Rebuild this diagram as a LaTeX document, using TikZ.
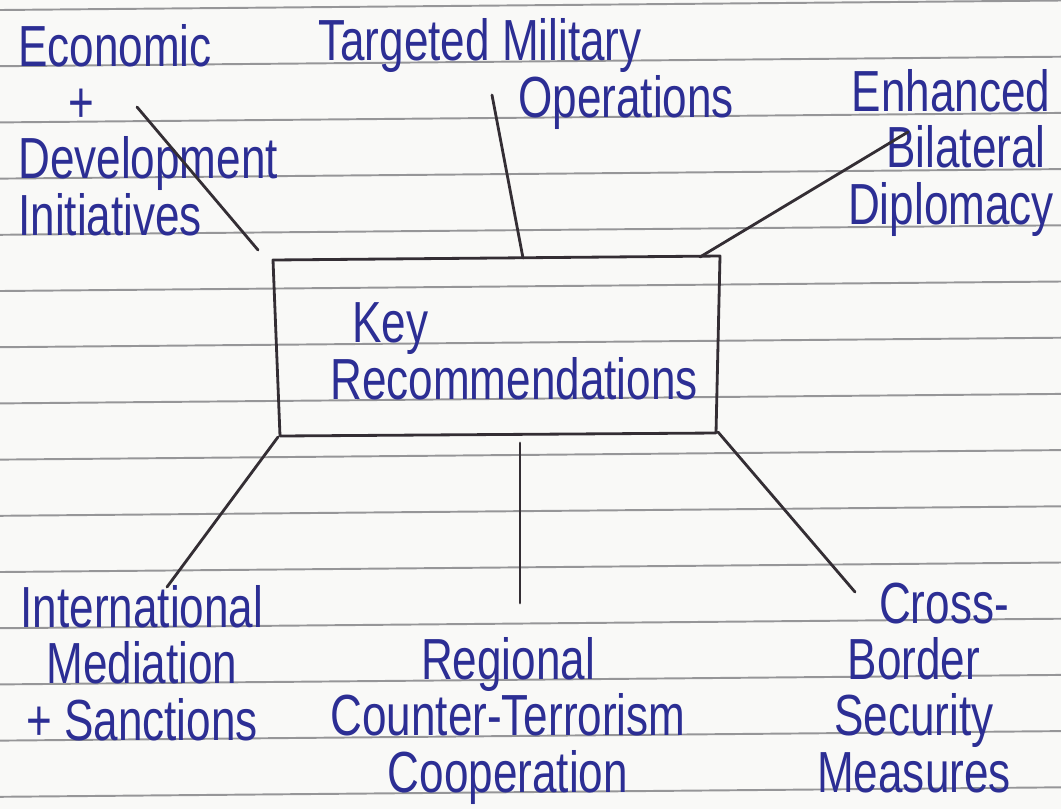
\documentclass[tikz,border=0pt]{standalone}
\usepackage{fontspec}
\newfontfamily\handfont[FakeStretch=0.76]{Liberation Sans}
\definecolor{inkcol}{RGB}{44,46,148}
\definecolor{pencol}{RGB}{52,46,52}
\definecolor{rulecol}{RGB}{150,150,152}
\definecolor{papercol}{RGB}{249,249,247}
\tikzstyle{ruling}=[rulecol, line width=1.1pt]
\tikzstyle{note}=[inkcol, inner sep=0pt,
font=\handfont\fontsize{33}{32}\selectfont]
\tikzstyle{link}=[pencol, line width=1.6pt, line cap=round]

\begin{document}
\begin{tikzpicture}[x=0.02cm, y=-0.02cm]
  \useasboundingbox (0,0) rectangle (1061,809);
  \fill[papercol] (0,0) rectangle (1061,809);
  % ruled lines of the page
  \foreach \k in {0,...,14}
    \draw[ruling] (0,10+56.2*\k) -- (1061,0.5+56.2*\k);
  % central box
  \coordinate (kTL) at (273,260);
  \coordinate (kTR) at (720,256);
  \coordinate (kBR) at (716,433);
  \coordinate (kBL) at (280,436);
  \draw[link, line join=round] (kTL) -- (kTR) -- (kBR) -- (kBL) -- cycle;
  % (base anchor of a multi-line node = last line)
  \node[note, align=left, anchor=base west] (key) at (330,399)
    {\hspace{0.44cm}Key\\Recommendations};
  % branches
  \node[note, align=left, anchor=base west] (econ) at (18,235)
    {Economic\\\hspace{1.0cm}+\\Development\\Initiatives};
  \node[note, align=left, anchor=base west] (mil) at (318,117)
    {Targeted Military\\\hspace{4cm}Operations};
  \node[note, align=center, anchor=base] (dipl) at (951,224)
    {Enhanced\\\hspace{0.6cm}Bilateral\\Diplomacy};
  \node[note, align=center, anchor=base] (intl) at (142,740)
    {International\\Mediation\\+ Sanctions};
  \node[note, align=center, anchor=base] (ctr) at (508,792)
    {Regional\\Counter-Terrorism\\Cooperation};
  \node[note, align=center, anchor=base] (cross) at (914,792)
    {\hspace{1.2cm}Cross-\\Border\\Security\\Measures};
  % connectors
  \coordinate (econ-end) at (137,107);
  \coordinate (econ-box) at (258,250);
  \coordinate (mil-end) at (492,95);
  \coordinate (mil-box) at (523,258);
  \coordinate (dipl-end) at (908,132);
  \coordinate (dipl-box) at (700,257);
  \coordinate (intl-box) at (278,437);
  \coordinate (intl-end) at (167,587);
  \coordinate (ctr-box) at (520,443);
  \coordinate (ctr-end) at (520,603);
  \coordinate (cross-box) at (718,432);
  \coordinate (cross-end) at (855,592);
  \draw[link] (econ-end) -- (econ-box);
  \draw[link] (mil-end) -- (mil-box);
  \draw[link] (dipl-end) -- (dipl-box);
  \draw[link] (intl-box) -- (intl-end);
  \draw[link] (ctr-box) -- (ctr-end);
  \draw[link] (cross-box) -- (cross-end);
\end{tikzpicture}
\end{document}
